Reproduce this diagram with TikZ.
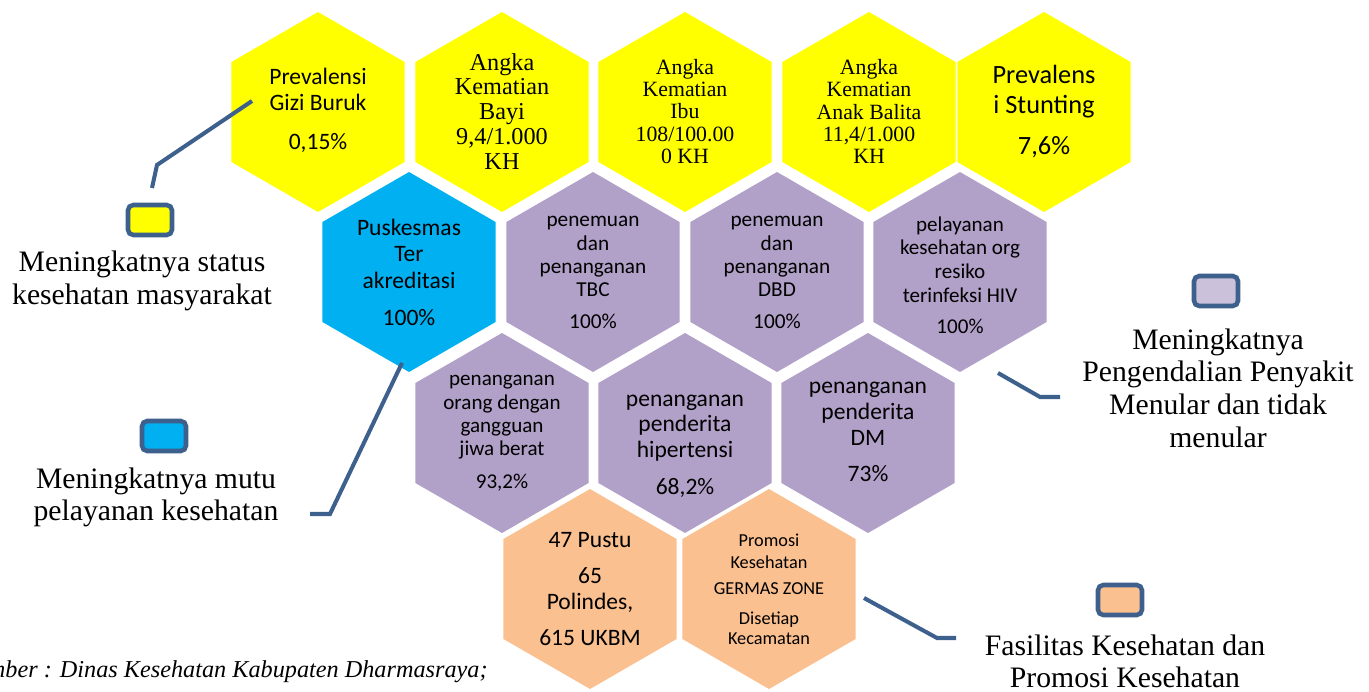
\documentclass[tikz,border=0pt]{standalone}
\usepackage{fontspec}
\setmainfont{Liberation Serif}
\setsansfont{Carlito}
\usetikzlibrary{shapes.geometric}
\definecolor{giallo}{RGB}{255,255,0}
\definecolor{azzurro}{RGB}{0,176,240}
\definecolor{viola}{RGB}{177,160,199}
\definecolor{lilla}{RGB}{204,193,218}
\definecolor{pesca}{RGB}{250,192,144}
\definecolor{linea}{RGB}{62,96,141}
\tikzset{
  esagono/.style={regular polygon, regular polygon sides=6, regular polygon rotate=30,
    minimum size=4cm, inner sep=0pt, fill=#1},
  testo/.style={align=center, inner sep=0pt},
  legenda/.style={draw=linea, line width=2.6pt, rounded corners=3pt, minimum width=0.88cm,
    minimum height=0.6cm, inner sep=0pt, fill=#1},
  didascalia/.style={align=center, inner sep=0pt, font=\fontsize{16.9}{18.6}\selectfont},
  collegamento/.style={draw=linea, line width=2.3pt}
}
\begin{document}
\begin{tikzpicture}[x=0.02cm, y=-0.02cm]
        \useasboundingbox (0,0) rectangle (1369,692);
        \clip (0,0) rectangle (1369,692);
        % Riga 1
        \node[esagono=giallo] (gizi) at (318,112) {};
        \node[esagono=giallo] (bayi) at (502,112) {};
        \node[esagono=giallo] (ibu) at (685,112) {};
        \node[esagono=giallo] (balita) at (869,112) {};
        \node[esagono=giallo] (stunting) at (1044,112) {};
        \node[testo, font=\sffamily\fontsize{13.4}{14.8}\selectfont] (tgizi) at (318,110.5)
            {Prevalensi\\Gizi Buruk\\[7.4pt]0,15\%};
        \node[testo, font=\fontsize{13.8}{14.2}\selectfont] (tbayi) at (502,111.5)
            {Angka\\Kematian\\Bayi\\9,4/1.000\\KH};
        \node[testo, font=\fontsize{12.4}{12.7}\selectfont] (tibu) at (685,111.5)
            {Angka\\Kematian\\Ibu\\108/100.00\\0 KH};
        \node[testo, font=\fontsize{12.4}{12.7}\selectfont] (tbalita) at (869,111.5)
            {Angka\\Kematian\\Anak Balita\\11,4/1.000\\KH};
        \node[testo, font=\sffamily\fontsize{15}{17}\selectfont] (tstunting) at (1044,111.5)
            {Prevalens\\i Stunting\\[6.3pt]7,6\%};
        % Riga 2
        \node[esagono=azzurro] (akreditasi) at (409,272) {};
        \node[esagono=viola] (tbc) at (593,272) {};
        \node[esagono=viola] (dbd) at (777,272) {};
        \node[esagono=viola] (hiv) at (960,272) {};
        \node[testo, font=\sffamily\fontsize{13.4}{15.1}\selectfont] (takreditasi) at (409,272)
            {Puskesmas\\Ter\\akreditasi\\[6pt]100\%};
        \node[testo, font=\sffamily\fontsize{12.1}{13.3}\selectfont] (ttbc) at (593,272.5)
            {penemuan\\dan\\penanganan\\TBC\\[4.7pt]100\%};
        \node[testo, font=\sffamily\fontsize{12.1}{13.3}\selectfont] (tdbd) at (777,272.5)
            {penemuan\\dan\\penanganan\\DBD\\[4.7pt]100\%};
        \node[testo, font=\sffamily\fontsize{12}{13.5}\selectfont] (thiv) at (960,275)
            {pelayanan\\kesehatan org\\resiko\\terinfeksi HIV\\[4.1pt]100\%};
        % Riga 3
        \node[esagono=viola] (jiwa) at (502,433) {};
        \node[esagono=viola] (hipertensi) at (685,433) {};
        \node[esagono=viola] (dm) at (868,433) {};
        \node[testo, font=\sffamily\fontsize{12}{13.3}\selectfont] (tjiwa) at (502,433.5)
            {penanganan\\orang dengan\\gangguan\\jiwa berat\\[5.5pt]93,2\%};
        \node[testo, font=\sffamily\fontsize{13.4}{14.5}\selectfont] (thipertensi) at (685,446)
            {penanganan\\penderita\\hipertensi\\[6.5pt]68,2\%};
        \node[testo, font=\sffamily\fontsize{13.4}{14.8}\selectfont] (tdm) at (868,432)
            {penanganan\\penderita\\DM\\[5.7pt]73\%};
        % Riga 4
        \node[esagono=pesca] (pustu) at (590,589) {};
        \node[esagono=pesca] (promosi) at (769,589) {};
        \node[testo, font=\sffamily\fontsize{13.4}{14.8}\selectfont] (tpustu) at (590,589)
            {47 Pustu\\[5.7pt]65\\Polindes,\\[5.7pt]615 UKBM};
        \node[testo, font=\sffamily\fontsize{10.4}{11.4}\selectfont] (tpromosi) at (769,589)
            {Promosi\\[1.1pt]Kesehatan\\[3.4pt]GERMAS ZONE\\[5.7pt]Disetiap\\Kecamatan};
        % Legenda
        \node[legenda=giallo] (bgizi) at (150,220) {};
        \node[didascalia] (lgizi) at (142,281) {Meningkatnya status\\kesehatan masyarakat};
        \node[legenda=azzurro] (bmutu) at (164,436) {};
        \node[didascalia] (lmutu) at (156,497.5) {Meningkatnya mutu\\pelayanan kesehatan};
        \node[legenda=lilla] (bpenyakit) at (1216,291) {};
        \node[didascalia] (lpenyakit) at (1218,388)
            {Meningkatnya\\Pengendalian Penyakit\\Menular dan tidak\\menular};
        \node[legenda=pesca] (bfasilitas) at (1120,600) {};
        \node[didascalia] (lfasilitas) at (1125,661.5) {Fasilitas Kesehatan dan\\Promosi Kesehatan};
        % Linee
        \coordinate (g1) at (152,188);
        \coordinate (g2) at (157,165);
        \coordinate (g3) at (252,101);
        \draw[collegamento] (g1) -- (g2) -- (g3);
        \coordinate (m1) at (310,514);
        \coordinate (m2) at (330,514);
        \coordinate (m3) at (402,363);
        \draw[collegamento] (m1) -- (m2) -- (m3);
        \coordinate (p1) at (998,373);
        \coordinate (p2) at (1040,397);
        \coordinate (p3) at (1060,397);
        \draw[collegamento] (p1) -- (p2) -- (p3);
        \coordinate (f1) at (864,598);
        \coordinate (f2) at (937,638);
        \coordinate (f3) at (956,638);
        \draw[collegamento] (f1) -- (f2) -- (f3);
        % Fonte
        \node[anchor=east, inner sep=0pt, font=\itshape\fontsize{13.8}{16}\selectfont] (fonte)
            at (488,672) {Sumber : Dinas Kesehatan Kabupaten Dharmasraya;};
    \end{tikzpicture}
\end{document}
